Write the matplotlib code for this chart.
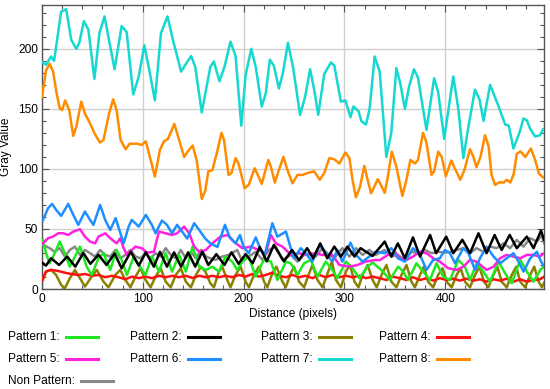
import matplotlib
matplotlib.use("Agg")
import matplotlib.pyplot as plt
from matplotlib.lines import Line2D
from matplotlib.ticker import MultipleLocator

plt.rcParams['font.family'] = ['Liberation Sans', 'DejaVu Sans']

# Pattern 1 (green)
p1_x = [1, 4, 7.6, 12.6, 17.6, 22.6, 27.6, 32.6, 37.7, 44.3, 49.3, 56, 61, 67.7, 74, 79, 84.3, 91, 96, 102.7,
        109, 116, 122.7, 129, 136, 142.7, 149.4, 156, 162.7, 169, 175.5, 182, 188.7, 193.7, 200, 205, 212, 220, 227, 233.5,
        242, 246.8, 253.4, 260, 266.7, 273.3, 281.6, 288, 293, 301.5, 308, 314.8, 323, 328, 338.3, 345, 353.3, 358.3, 363.2, 371.5,
        378.2, 384.8, 391.4, 398, 404.7, 413, 419.6, 424.6, 431.2, 437.8, 444.5, 452.8, 459.4, 466, 474.4, 481, 487.6, 494.3, 498]
p1_y = [40.9, 29.8, 21.4, 29.8, 39.5, 29.8, 18.6, 27, 35.3, 18.6, 11.7, 25.6, 29.8, 15.9, 32.5, 24.2, 11.7, 27, 20, 11.7,
        27, 14.5, 29.8, 14.5, 28.4, 14.5, 35.3, 18.6, 15.9, 18.6, 14.5, 27, 22.8, 15.9, 24.2, 27, 10.3, 24.2, 22.8, 7.5,
        22.8, 21.4, 11.7, 21.4, 24.2, 10.3, 22.8, 15.9, 9, 22.8, 17.3, 9, 18.6, 22, 14.5, 7.5, 18.6, 14.5, 7.5, 21.4,
        14.5, 7.5, 21.4, 10.3, 7.5, 24.2, 18.6, 7.5, 21.4, 14.5, 6, 22.8, 13.1, 4.8, 24.2, 14.5, 6, 15.9, 18.6]

# Pattern 2 (black)
p2_x = [0, 4, 9, 17, 25, 33, 41, 48, 56, 64, 72, 79, 88, 96, 103, 111, 117, 124, 131, 138,
        145, 152, 159, 165, 173, 181, 188, 195, 202, 209, 216, 223, 230, 240, 248, 255, 263, 269, 276, 283,
        290, 296.5, 303, 310, 316, 328, 340, 346.6, 353, 360, 368, 375, 385, 391, 401, 408, 417, 424.6, 433, 441,
        449, 456, 464, 471, 481, 487.6, 495, 498]
p2_y = [22, 19.5, 25.6, 20, 27, 18.6, 30, 21, 28.5, 20, 29.5, 17.3, 31, 19.5, 30.5, 18.6, 31, 18.6, 30.5, 18.6,
        30.5, 18.6, 31, 20, 29, 20, 30.5, 21, 29, 21.4, 35, 23, 36.7, 23, 32.5, 24, 34, 25.6, 38, 25.6,
        35.3, 27, 35.3, 27, 34, 27.5, 39.5, 27, 38, 25.6, 43, 27, 45, 29.8, 43.6, 29.8, 41, 29.8, 46.4, 29.8,
        45, 32.5, 45, 34, 43.6, 34, 48.6, 41]

# Pattern 3 (olive)
p3_x = [1, 4, 9, 14, 19, 22.6, 27.6, 32.6, 37.7, 42.6, 49.3, 54.3, 61, 66, 72.7, 77.7, 82.7, 87.7, 92.7, 97.7,
        102.7, 107.7, 112.7, 117.7, 122.7, 127.7, 132.7, 137.7, 142.7, 147.7, 152.7, 157.7, 162, 167, 170.5, 175.5, 178.8, 183.8, 187, 192,
        197, 202, 205.3, 210.3, 215.2, 220.3, 223.5, 228.5, 232.5, 238.5, 241.8, 246.8, 250, 255, 260, 265, 268.3, 273.3, 278.3, 283.3,
        287.6, 291.6, 296.5, 301.5, 305.5, 310, 314, 318, 323, 328, 332, 337, 341.7, 346.6, 351.6, 356.6, 361.6, 366.5, 369.9, 375,
        378.8, 383, 388, 393, 397.4, 401.4, 406.4, 411.3, 415.3, 419.6, 424.6, 429.6, 433.9, 438.5, 442.8, 447.8, 451.8, 456, 461, 466,
        470.4, 474.4, 479.3, 484.3, 488.3, 492.6, 496, 498]
p3_y = [7.5, 14.5, 15.9, 11.7, 3.4, 0.6, 8.9, 15.9, 8.9, 2, 10.3, 15.9, 6.1, 1.4, 11.7, 15.9, 7.5, 1.4, 10.3, 17.3,
        7.5, 1.4, 10.3, 17.3, 6.1, 1.4, 11.7, 17.3, 6.1, 1.4, 11.7, 18.6, 14.5, 4.8, 1.4, 14.5, 18.6, 7.5, 1.4, 11.7,
        18.6, 6.1, 1.4, 11.7, 18.6, 6.1, 1.4, 13.1, 18.6, 6.1, 1.4, 13.1, 18.6, 6.1, 1.4, 13.1, 20, 7.5, 1.4, 13.1,
        22.8, 7.5, 1.4, 14.5, 20, 6.1, 1.4, 11.7, 20, 7.5, 1.4, 12, 20, 6.1, 1.4, 11.7, 20, 6.1, 1.4, 11.7,
        18.6, 6.1, 1.4, 11.7, 17.3, 6.1, 1.4, 11.7, 17.3, 6.1, 1.4, 11.7, 18.6, 6.1, 1.4, 11.7, 18.6, 6.1, 1.4, 11.7,
        18.6, 6.1, 1.4, 11.7, 18.6, 6.1, 1.4, 5]

# Pattern 4 (red)
p4_x = [0, 4, 9, 16, 22.6, 29, 36, 42.6, 49.3, 56, 62.7, 69.3, 76, 82.7, 89.3, 96, 102.7, 109.3, 116, 122.7,
        129.3, 136, 142.7, 149.4, 156, 162.7, 169, 175.5, 182, 189, 195.4, 202, 208.6, 215, 222, 228.5, 235, 242, 248.5, 255,
        261.5, 268.3, 275, 281.5, 288, 295, 301.5, 308, 315, 321.4, 328, 335, 341.7, 348.3, 355, 361.6, 368, 375, 381.5, 388,
        394.7, 401.4, 408, 414.6, 421, 428, 434.5, 441, 448, 454.4, 461, 467.7, 474.4, 481, 487.6, 494.3, 498]
p4_y = [7.5, 14.5, 16, 15, 13.6, 12.5, 11.7, 12.5, 11, 11.7, 9.8, 11, 9.8, 8.1, 10.3, 9, 10.3, 9, 11, 9.8,
        11, 9.8, 11, 9.2, 11, 9.8, 11, 9.8, 11, 9.8, 11.7, 10.3, 12.5, 10.3, 11.7, 13.6, 11, 9.8, 11.7, 9.8,
        11, 9, 11.7, 9.8, 11.7, 9.8, 11, 9.8, 11, 9, 10.3, 9, 7.5, 10.3, 9, 7.5, 9.8, 7.5, 9, 7,
        9, 7.5, 8.6, 7, 8.6, 7, 8.1, 6.1, 8.1, 7, 8.6, 6.1, 8.1, 6.1, 7.5, 8.1, 10.3]

# Pattern 5 (magenta)
p5_x = [1, 6, 11, 16, 21, 26, 31, 37.7, 42.6, 47.7, 52.7, 56, 62.7, 67.7, 74, 77.7, 81, 84.3, 92.6, 99,
        104, 111, 116, 122.6, 129, 134, 141, 146, 151, 156, 162.6, 169, 177, 184, 190, 198.7, 207, 215, 222, 227,
        232, 238.5, 247, 255, 263, 271.6, 278, 288, 295, 305, 313, 321, 331, 335, 343, 350, 355, 361.6, 368, 375,
        381.5, 388, 394.7, 403, 411, 418, 424.6, 431, 441, 448, 454.4, 461, 467.7, 474.4, 481, 487.6, 494, 498]
p5_y = [38, 42.3, 43.6, 46.4, 46.4, 45, 47.8, 49.8, 43.6, 39.5, 38, 43.6, 46.4, 42.3, 38, 42.3, 34, 28.4, 35.3, 34,
        30.3, 31, 47.8, 46.4, 45, 46.4, 52, 46.4, 35.3, 31, 32.5, 38, 43.6, 45, 39.5, 34, 35.3, 32.5, 29.8, 45,
        38, 35.3, 28.4, 29.8, 28.4, 29.8, 28.4, 28.4, 20, 18.6, 20, 22.8, 24.2, 24, 28.4, 31, 25.6, 24.2, 27, 31,
        29.8, 25.6, 22.8, 17.3, 15.9, 18.6, 24.2, 22.8, 15.9, 18.6, 25.6, 28.4, 27, 25.6, 28.4, 28.4, 27, 29.8]

# Pattern 6 (blue)
p6_x = [1, 6, 10, 14, 19, 26, 31, 36, 42.6, 47.7, 51, 57.7, 62.7, 67.7, 73, 81, 86, 89, 96, 103,
        109, 112.6, 119, 124, 129, 134, 139, 144, 151, 156, 162, 167, 174, 181.5, 186, 192, 196.4, 200, 205, 212,
        217, 221, 228.5, 233.5, 242, 246.8, 250, 256.7, 261.7, 268, 275.6, 281.6, 288, 293, 298, 306, 311.5, 318, 324.7, 331,
        340, 346.6, 353, 360, 368, 375, 381.5, 388, 394.7, 399.7, 404.7, 409.7, 418, 423, 429.6, 434.5, 441, 448, 454.4, 461,
        467.7, 472.7, 477.7, 484.3, 491, 494.3, 498]
p6_y = [57.5, 67.3, 70.9, 65.9, 60.9, 70.9, 61.7, 53.4, 64.5, 57.5, 53.4, 70, 57.5, 49.2, 59, 38, 52, 57.5, 52, 61.7,
        53.4, 46.4, 57, 53.4, 46.4, 53.4, 47.8, 42, 54.8, 49, 42, 38, 35, 53.4, 43.6, 38, 45, 35, 29.8, 43,
        32.5, 28.4, 54.8, 43.6, 47.8, 34, 25.6, 34, 29.8, 22.8, 36.7, 29.8, 22.8, 32.5, 22.8, 38.6, 28.4, 22.8, 27, 31,
        29.8, 34, 25.6, 22.8, 34, 28.4, 15.9, 24.2, 25.6, 32.5, 29.8, 21.4, 34, 29.8, 15.9, 25.6, 35.3, 27, 21.4, 25.6,
        29.8, 22.8, 14.5, 25.6, 31, 24.2, 18.6]

# Pattern 7 (cyan)
p7_x = [0, 4, 9, 12, 19, 24, 29, 34, 37, 41.5, 46, 52, 57, 62, 67, 72, 79, 84, 90.5, 96,
        101.5, 107, 112, 118, 124.5, 130, 138, 142, 148, 152, 158.5, 167, 170.5, 176, 181, 187, 192, 197.7, 202, 207.6,
        212, 218, 222, 226, 230, 235, 239, 244, 249, 256, 261, 266, 270, 274, 280, 286.6, 290, 296.5, 301, 306,
        309, 314, 317, 321.4, 325, 330, 335, 341.6, 346.5, 351.5, 355.5, 360, 364, 369, 373, 381.4, 389, 393, 399, 408,
        413, 418, 423, 429.5, 434, 438, 444.5, 453, 459.5, 463, 467.7, 474, 477.6, 481, 484, 489, 494, 497]
p7_y = [189, 186.7, 193.6, 190, 231, 233, 207.5, 200, 205, 223, 216, 175, 213, 227, 205, 183, 219, 214, 162, 177,
        203, 180, 157, 213, 227, 207, 181, 186.5, 194, 185, 147, 185, 189.5, 173, 185, 206, 194, 136, 178, 200,
        185, 152, 163, 191, 186, 167, 180, 205, 185, 145, 160, 183, 166, 145, 179, 188.6, 186, 156, 157, 143,
        152, 148, 139.5, 137, 150, 193.6, 181, 110, 130, 184, 171, 150, 168, 183, 176, 132.5, 175.5, 164, 125, 177,
        150, 109, 135, 166, 158, 140, 170, 152, 137, 136, 117, 131, 142, 140.5, 134, 127, 128, 133]

# Pattern 8 (orange)
p8_x = [0, 4, 7.6, 11, 14.5, 17.6, 20, 23, 27, 31, 34, 39, 42.6, 47.6, 52.5, 57.4, 61, 66.5, 70.6, 74,
        78, 83, 87, 94, 99, 103, 107, 112, 117, 121, 125, 131.3, 135, 141, 145, 149.5, 153.5, 158.5, 162, 165,
        169, 174, 178, 180.6, 185, 188, 192, 195, 201, 205, 211, 213.5, 218, 224.5, 227, 231, 235, 239.5, 243.5, 248.5,
        253.5, 258.5, 263.5, 270, 275.6, 280, 285, 290, 295, 301, 305, 308, 311.4, 315.5, 319.7, 323, 326.4, 329.6, 333, 336,
        340, 343, 347, 351.5, 357.5, 361.5, 365.5, 370, 373, 378, 381.4, 386.4, 389, 393, 396.5, 400.7, 406, 409.5, 415, 419,
        424.6, 428, 431, 435, 439.5, 443, 446, 449.4, 454, 458, 461, 464.6, 468, 471, 474.6, 479.5, 485, 489, 493, 497]
p8_y = [160, 182, 187.5, 181, 163, 150.5, 149, 157, 149, 127.5, 135, 156, 146, 138, 129, 122, 124, 146, 158, 149,
        124, 116.4, 121, 121, 120, 123, 110, 93.6, 116, 123, 125, 137.5, 127, 110, 115, 119.5, 107, 75, 82, 98,
        99, 115, 130, 124, 95, 96.5, 109, 104.5, 84, 86.6, 100.5, 96, 87.5, 107.5, 102, 88.6, 99, 110, 99, 88,
        95, 95, 96.6, 98, 91, 96.6, 109, 108, 104.5, 113.6, 109, 91, 76.4, 85, 102.5, 91, 79.7, 85, 91.4, 87,
        80, 93, 114.4, 102, 77.5, 91, 107.5, 104.5, 107.5, 130, 122, 95, 98, 114.4, 110, 94, 107, 100.5, 91, 99,
        116.4, 110, 101.4, 110, 128, 119, 95, 86.7, 89, 88.6, 91, 88.6, 96, 112.5, 114.6, 110, 117, 108, 96, 93]

# Non Pattern (gray)
np_x = [1, 7.6, 12.6, 17.6, 22.6, 27.6, 32.6, 37.7, 42.6, 47.7, 52.7, 57.7, 62.7, 67.7, 72.7, 77.7, 82.7, 87.7, 92.7, 97.7,
        102.7, 107.7, 112.7, 117.7, 122.7, 127.7, 132.7, 137.7, 142.7, 147.7, 152.7, 157.7, 162.7, 167, 172, 178.8, 185.4, 193.7, 198.7, 205,
        212, 218.6, 225, 232, 238.5, 247, 253.4, 260, 266.7, 271.6, 278, 283, 290, 298, 305, 311.5, 318, 324.7, 331, 340,
        346.6, 353, 360, 366.5, 373, 380, 386.4, 393, 399.7, 406.4, 411.3, 418, 424.6, 431, 437.8, 444.5, 451, 457.8, 464.4, 471,
        477.7, 484.3, 491, 496, 498]
np_y = [36.7, 34, 31, 34, 27, 32.5, 35.3, 28.4, 32.5, 29.8, 27, 32.5, 28.4, 27, 32.5, 25.6, 28.4, 32.5, 27, 25.6,
        29.8, 25.6, 29.8, 27, 34, 28.4, 25.6, 32.5, 25.6, 31, 25.6, 32.5, 27, 25.6, 24.2, 27, 28.4, 32.5, 22.8, 27,
        31, 24.2, 32.5, 35.3, 24.2, 28.4, 22.8, 28.4, 29.8, 27, 34, 29.8, 25.6, 34, 27, 34, 28.4, 32.5, 28.4, 32.5,
        27, 28.4, 24.2, 31, 29.8, 32.5, 29.8, 31, 30.3, 31, 32.5, 34, 29.8, 34, 31, 35.3, 34, 38, 34, 40.9,
        35.3, 42.3, 39.5, 45, 38]

labels = ["Pattern 1:", "Pattern 2:", "Pattern 3:", "Pattern 4:",
          "Pattern 5:", "Pattern 6:", "Pattern 7:", "Pattern 8:", "Non Pattern:"]
colors = ["#20e820", "#000000", "#8c8000", "#ff1010",
          "#ff20e0", "#1e8fff", "#16d8d0", "#ff8c00", "#888888"]
series = [(p1_x, p1_y), (p2_x, p2_y), (p3_x, p3_y), (p4_x, p4_y),
          (p5_x, p5_y), (p6_x, p6_y), (p7_x, p7_y), (p8_x, p8_y), (np_x, np_y)]

W, H = 550, 389
fig = plt.figure(figsize=(W / 100, H / 100), dpi=100)
ax = fig.add_axes([42 / W, 1 - 289 / H, (544 - 42) / W, (289 - 5) / H])

# draw order: gray first, then patterns, black on top of the small ones
order = [8, 2, 3, 0, 4, 5, 1, 7, 6]
for i in order:
    xs, ys = series[i]
    ax.plot(xs, ys, color=colors[i], lw=1.8, solid_joinstyle='round', zorder=3)

ax.set_xlim(0, 498)
ax.set_ylim(0, 236.5)
ax.xaxis.set_major_locator(MultipleLocator(100))
ax.xaxis.set_minor_locator(MultipleLocator(20))
ax.yaxis.set_major_locator(MultipleLocator(50))
ax.yaxis.set_minor_locator(MultipleLocator(10))
ax.tick_params(which='both', direction='in', top=True, right=True, colors='#555555',
               labelcolor='black', labelsize=8.6, width=0.8)
ax.tick_params(which='major', length=5, pad=3)
ax.tick_params(which='minor', length=3)
ax.grid(True, which='major', color='#d0d0d0', lw=1, zorder=0)
for s in ax.spines.values():
    s.set_color('#555555')
    s.set_linewidth(1)

ax.set_xlabel("Distance (pixels)", fontsize=8.6, labelpad=2)
ax.set_ylabel("Gray Value", fontsize=8.6, labelpad=4)

# legend: text followed by a short line sample
col_x = [8, 130, 261, 379]
row_y = [337, 359, 381]
for i, (lab, col) in enumerate(zip(labels, colors)):
    r, c = divmod(i, 4)
    tx, ty = col_x[c], row_y[r]
    t = fig.text(tx / W, 1 - ty / H, lab, fontsize=8.6, va='center', ha='left')
    fig.canvas.draw() if i == 0 else None
    bb = t.get_window_extent(renderer=fig.canvas.get_renderer())
    x0 = bb.x1 + 6
    fig.add_artist(Line2D([x0 / W, (x0 + 32) / W], [1 - ty / H, 1 - ty / H],
                          color=col, lw=2.2, transform=fig.transFigure))

fig.savefig("out.png", dpi=100)
